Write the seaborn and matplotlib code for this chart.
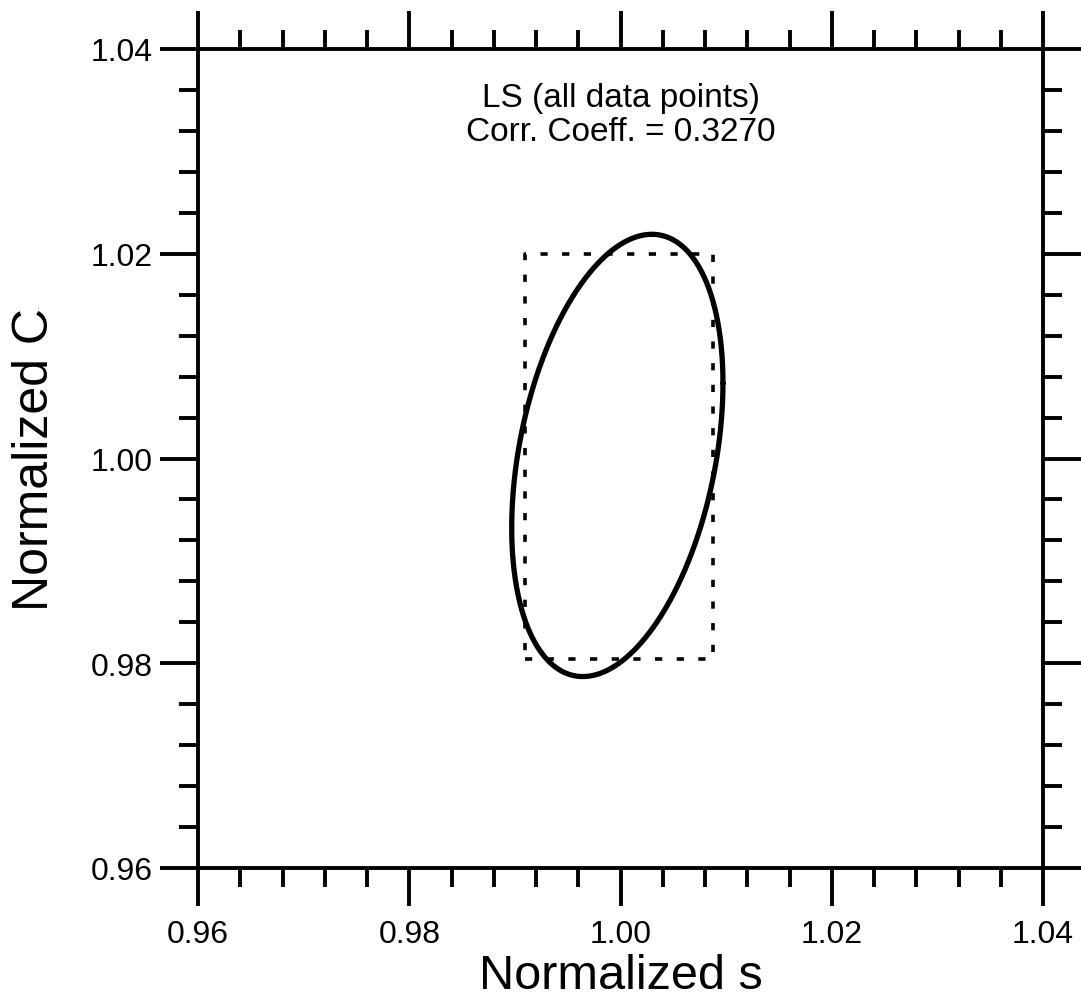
import numpy as np
import pandas as pd
import matplotlib
matplotlib.use("Agg")
import matplotlib.pyplot as plt
import seaborn as sns
from matplotlib.ticker import MultipleLocator, FormatStrFormatter

# ---- data ----
x_ticks = [0.96, 0.98, 1.00, 1.02, 1.04]
y_ticks = [0.96, 0.98, 1.00, 1.02, 1.04]
x_label = "Normalized s"
y_label = "Normalized C"
annotation = "LS (all data points)\nCorr. Coeff. = 0.3270"

# confidence ellipse parameters
ell_center_s = 0.9997
ell_center_c = 1.0003
ell_half_s = 0.0100
ell_half_c = 0.0216
corr_coeff = 0.3270

# dashed rectangle (independent bounds)
rect_s = [0.9910, 1.0088, 1.0088, 0.9910, 0.9910]
rect_c = [0.9804, 0.9804, 1.0200, 1.0200, 0.9804]

# ---- build ellipse table from the parameters ----
theta = np.linspace(0, 2 * np.pi, 721)
ell = pd.DataFrame({
    "s": ell_center_s + ell_half_s * np.cos(theta),
    "C": ell_center_c + ell_half_c * (corr_coeff * np.cos(theta)
                                      + np.sqrt(1 - corr_coeff ** 2) * np.sin(theta)),
})
rect = pd.DataFrame({"s": rect_s, "C": rect_c})

sns.set_theme(style="white")
plt.rcParams['font.family'] = ['Liberation Sans', 'DejaVu Sans']
plt.rcParams['text.color'] = 'black'
plt.rcParams['axes.labelcolor'] = 'black'

fig = plt.figure(figsize=(10.81, 10.03), dpi=100)
ax = fig.add_axes([198 / 1081, 1 - 869 / 1003, 845 / 1081, 819 / 1003])

sns.lineplot(data=ell, x="s", y="C", sort=False, estimator=None, ax=ax,
             color="black", linewidth=3.8)
sns.lineplot(data=rect, x="s", y="C", sort=False, estimator=None, ax=ax,
             color="black", linewidth=2.6, linestyle=(0, (2.0, 4.0)))

ax.set_xlim(x_ticks[0], x_ticks[-1])
ax.set_ylim(y_ticks[0], y_ticks[-1])
ax.set_xticks(x_ticks)
ax.set_yticks(y_ticks)
ax.xaxis.set_minor_locator(MultipleLocator(0.004))
ax.yaxis.set_minor_locator(MultipleLocator(0.004))
ax.xaxis.set_major_formatter(FormatStrFormatter("%.2f"))
ax.yaxis.set_major_formatter(FormatStrFormatter("%.2f"))

for sp in ax.spines.values():
    sp.set_color("black")
    sp.set_linewidth(2.8)

ax.tick_params(which="both", direction="out", color="black", width=2.8,
               bottom=True, left=True, top=True, right=True,
               labelbottom=True, labelleft=True, labeltop=False, labelright=False,
               labelcolor="black")
ax.tick_params(which="major", length=27.5, labelsize=23)
ax.tick_params(which="minor", length=14)
ax.tick_params(axis="x", which="major", pad=9)
ax.tick_params(axis="y", which="major", pad=5)

ax.set_xlabel(x_label, fontsize=35)
ax.set_ylabel(y_label, fontsize=36)
ax.xaxis.set_label_coords(0.5, -0.104)
ax.yaxis.set_label_coords(-0.166, 0.5)

ax.text(1.0, 1.0336, annotation, ha="center", va="center",
        fontsize=24, linespacing=1.1, color="black")

ax.grid(False)
fig.savefig("out.png", dpi=100)
